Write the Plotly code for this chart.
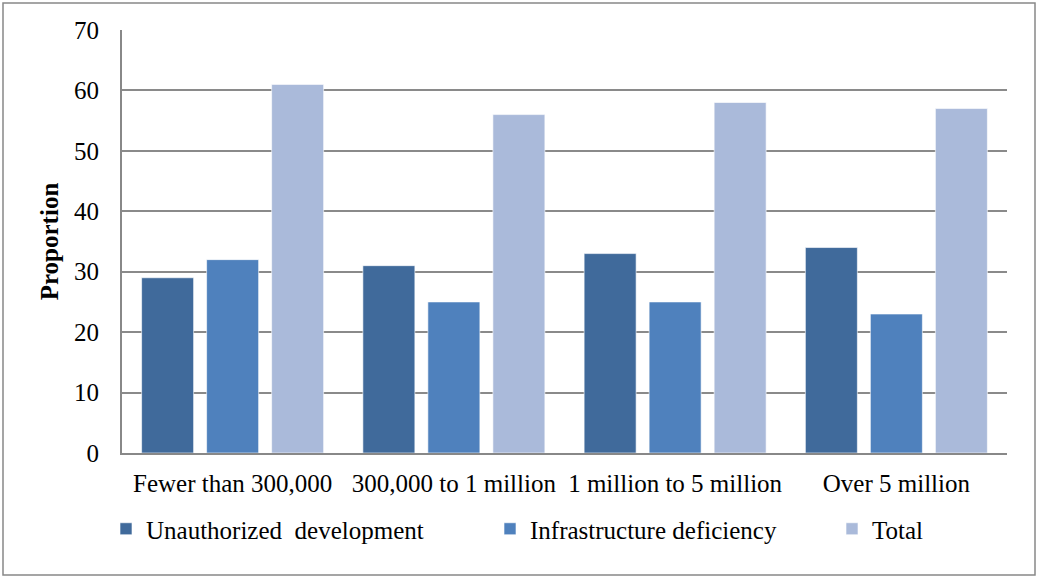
import plotly.graph_objects as go

categories = ["Fewer than 300,000", "300,000 to 1 million", "1 million to 5 million", "Over 5 million"]
unauthorized = [29, 31, 33, 34]
infrastructure = [32, 25, 25, 23]
total = [61, 56, 58, 57]
series_names = ["Unauthorized  development", "Infrastructure deficiency", "Total"]
colors = ["#406A9B", "#4F81BD", "#AABADA"]

FONT = "Liberation Serif"
L, R, T, B = 122, 31, 30, 125
W, H = 1038, 578
pw, ph = W - L - R, H - T - B

legend_ids = ["legend", "legend2", "legend3"]
legend_marker_px = [120, 504, 846]

fig = go.Figure()
for name, vals, c, lid in zip(series_names, [unauthorized, infrastructure, total], colors, legend_ids):
    fig.add_trace(go.Bar(x=categories, y=vals, name=name, legend=lid,
                         marker=dict(color=c, line=dict(color="rgba(255,255,255,0.6)", width=1))))

legend_common = dict(orientation="h", xanchor="left", y=(H - B - 506) / ph, yanchor="top",
                     font=dict(family=FONT, size=25), itemwidth=30, bgcolor="rgba(0,0,0,0)")

layout_legends = {}
for lid, mx in zip(legend_ids, legend_marker_px):
    layout_legends[lid] = dict(legend_common, x=(mx - 14 - L) / pw)

fig.update_layout(
    width=W, height=H,
    margin=dict(l=L, r=R, t=T, b=B),
    paper_bgcolor="white", plot_bgcolor="white",
    barmode="group", bargap=0.1186, bargroupgap=0.2,
    font=dict(family=FONT, size=25, color="black"),
    xaxis=dict(showline=True, linecolor="#888888", linewidth=2, ticks="",
               tickfont=dict(family=FONT, size=25), showgrid=False, ticklabelstandoff=7),
    yaxis=dict(range=[0, 70], dtick=10, showline=True, linecolor="#888888", linewidth=2,
               gridcolor="#8a8a8a", gridwidth=1.5, zeroline=False,
               ticks="", ticklen=0, tickfont=dict(family=FONT, size=25), ticklabelstandoff=16,
               title=dict(text="<b>Proportion</b>", font=dict(family=FONT, size=25), standoff=8)),
    showlegend=True,
    **layout_legends,
)
fig.add_shape(type="rect", xref="paper", yref="paper",
              x0=(3 - L) / pw, x1=(1035 - L) / pw, y0=(H - B - 575) / ph, y1=(H - B - 3) / ph,
              line=dict(color="#888888", width=1.5), fillcolor="rgba(0,0,0,0)", layer="below")
fig.write_html("out.html", config={"displayModeBar": False},
               post_script="document.body.style.margin='0';")
